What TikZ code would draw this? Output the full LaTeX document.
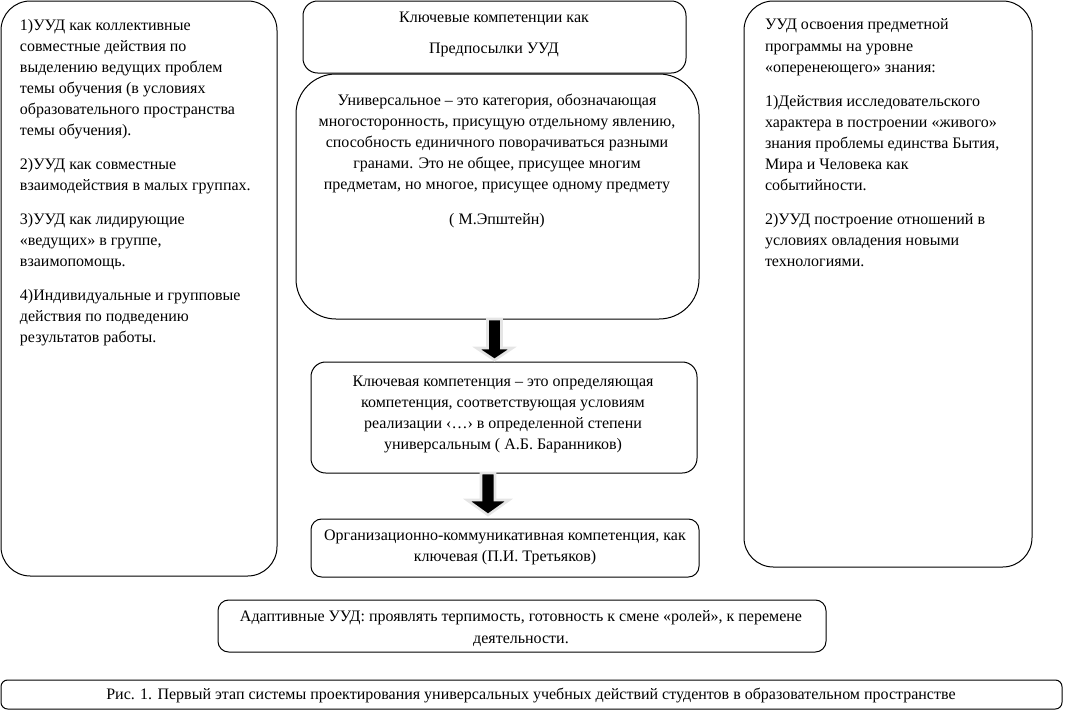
\documentclass[tikz,border=0pt]{standalone}
\usepackage{fontspec}
\setmainfont{Liberation Serif}
\usetikzlibrary{calc}
\newcommand\ubox[6]{\node[box,rounded corners=#6,minimum width={(#4-#2)*0.75pt},minimum height={(#5-#3)*0.75pt}] (#1) at ({(#2+#4)/2},{(#3+#5)/2}) {};}
\begin{document}
\begin{tikzpicture}[x=0.75pt,y=-0.75pt,
  box/.style={draw,line width=0.75pt,inner sep=0pt,outer sep=0pt},
  txt/.style={inner sep=0pt,outer sep=0pt,font=\fontsize{12}{15.8}\selectfont},
  blk/.style={fill=black,draw=black!10,line width=1.9pt,line join=miter}]
\useasboundingbox (0,0) rectangle (1065,711);
\ubox{left}{1}{1}{277}{576}{22pt}
\ubox{top}{303}{1}{686}{73}{11pt}
\ubox{uni}{296}{74}{699}{319}{30pt}
\ubox{key}{311}{362}{697}{473}{11pt}
\ubox{org}{311}{519}{699}{577}{8pt}
\ubox{right}{744}{1}{1032}{567}{22pt}
\ubox{adapt}{218}{600}{826}{652}{8pt}
\ubox{cap}{1}{680}{1062}{709}{5pt}
% texts
\node[txt,align=left,anchor=north west] (lt) at (20,19) {1)УУД как коллективные\\
совместные действия по\\
выделению ведущих проблем\\
темы обучения (в условиях\\
образовательного пространства\\
темы обучения).\\[9.75pt]
2)УУД как совместные\\
взаимодействия в малых группах.\\[9.75pt]
3)УУД как лидирующие\\
«ведущих» в группе,\\
взаимопомощь.\\[9.75pt]
4)Индивидуальные и групповые\\
действия по подведению\\
результатов работы.};
\node[txt,align=left,anchor=north west] (rt) at (765,19) {УУД освоения предметной\\
программы на уровне\\
«оперенеющего» знания:\\[9.75pt]
1)Действия исследовательского\\
характера в построении «живого»\\
знания проблемы единства Бытия,\\
Мира и Человека как\\
событийности.\\[9.75pt]
2)УУД построение отношений в\\
условиях овладения новыми\\
технологиями.};
\node[txt,align=center,anchor=north] (tt) at (494,12) {Ключевые компетенции как\\[7.5pt]
Предпосылки УУД};
\node[txt,align=center,anchor=north] (ut) at (497,94) {Универсальное – это категория, обозначающая\\
многосторонность, присущую отдельному явлению,\\
способность единичного поворачиваться разными\\
гранами. Это не общее, присущее многим\\
предметам, но многое, присущее одному предмету\\[10.5pt]
( М.Эпштейн)};
\node[txt,align=center,anchor=north] (kt) at (503,376) {Ключевая компетенция – это определяющая\\
компетенция, соответствующая условиям\\
реализации ‹…› в определенной степени\\
универсальным ( А.Б. Баранников)};
\node[txt,align=center,anchor=north] (ot) at (505,530) {Организационно-коммуникативная компетенция, как\\
ключевая (П.И. Третьяков)};
\node[txt,align=center,anchor=north] (at) at (521,611) {Адаптивные УУД: проявлять терпимость, готовность к смене «ролей», к перемене\\
деятельности.};
\node[txt,anchor=center] (ct) at (531,695) {Рис. 1. Первый этап системы проектирования универсальных учебных действий студентов в образовательном пространстве};
% block arrows
\coordinate (a1) at ([xshift=-2.25pt]uni.south);
\coordinate (a1t) at ([yshift=1.5pt]a1 |- key.north);
\fill[blk] ($(a1)+(-7,0)$) -- ($(a1)+(7,0)$) -- ($(a1t)+(7,-12)$) -- ($(a1t)+(18,-12)$) -- (a1t) -- ($(a1t)+(-18,-12)$) -- ($(a1t)+(-7,-12)$) -- cycle;
\coordinate (a2) at ([xshift=-12pt]key.south);
\coordinate (a2t) at ([yshift=3pt]a2 |- org.north);
\fill[blk] ($(a2)+(-7,0)$) -- ($(a2)+(7,0)$) -- ($(a2t)+(7,-15)$) -- ($(a2t)+(21,-15)$) -- (a2t) -- ($(a2t)+(-21,-15)$) -- ($(a2t)+(-7,-15)$) -- cycle;
\end{tikzpicture}
\end{document}
